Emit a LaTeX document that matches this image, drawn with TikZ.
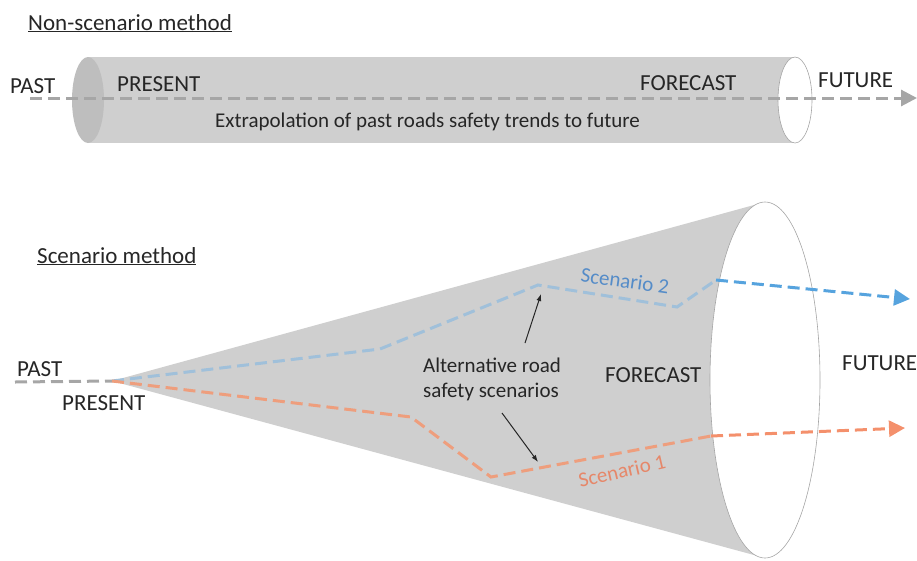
\documentclass[tikz,border=0pt]{standalone}
\usepackage{fontspec}
\setmainfont{Carlito}
\usetikzlibrary{positioning,arrows.meta}
\definecolor{bodygray}{RGB}{207,207,207}
\definecolor{capgray}{RGB}{190,190,190}
\definecolor{rimgray}{RGB}{165,165,165}
\definecolor{pastgray}{RGB}{166,166,166}
\definecolor{lightblue}{RGB}{160,192,218}
\definecolor{darkblue}{RGB}{86,163,222}
\definecolor{lightorange}{RGB}{238,158,125}
\definecolor{darkorange}{RGB}{244,144,108}
\definecolor{textblue}{RGB}{85,140,200}
\definecolor{textorange}{RGB}{230,135,105}

\begin{document}
\begin{tikzpicture}[x=1pt,y=-1pt,font=\fontsize{21}{25}\selectfont,
  trend/.style={dash pattern=on 12pt off 6pt, line width=3pt},
  tip/.style={-{Triangle[length=16pt,width=16pt]}},
  lbl/.style={inner sep=0pt, text=black!85, anchor=base west},
  caps/.style={lbl, font=\fontsize{23}{27}\selectfont},
  pointer/.style={black!85, line width=1pt, -{Latex[length=7pt,width=5pt]}}]
  \useasboundingbox (0,0) rectangle (917,560);

  % non-scenario method
  \node[caps] (title1) at (28,30) {\underline{Non-scenario method}};
  \fill[bodygray] (88,57) rectangle (795,143);
  \fill[capgray] (88,100) ellipse [x radius=16, y radius=43];
  \filldraw[fill=white, draw=rimgray, line width=0.6pt] (795,100) ellipse [x radius=17, y radius=43];
  \coordinate (pastA) at (30,98);
  \coordinate (futA) at (917,98);
  \draw[trend, pastgray, tip] (pastA) -- (futA);
  \node[caps] (pastT) at (10,93) {PAST};
  \node[caps] (presT) at (117,91) {PRESENT};
  \node[caps] (foreT) at (640,90) {FORECAST};
  \node[caps] (futT) at (818,87) {FUTURE};
  \node[lbl] (extra) at (215,127) {Extrapolation of past roads safety trends to future};

  % scenario method
  \node[caps] (title2) at (37,263) {\underline{Scenario method}};
  \coordinate (apex) at (112,381);
  \fill[bodygray] (apex) -- (765,202) -- (765,558) -- cycle;
  \filldraw[fill=white, draw=rimgray, line width=0.6pt] (765,380) ellipse [x radius=55, y radius=178];

  \coordinate (pastB) at (15,382);
  \draw[trend, pastgray] (pastB) -- (apex);

  % scenario 2
  \coordinate (b1) at (380,349);
  \coordinate (b2) at (538,285);
  \coordinate (b3) at (677,307);
  \coordinate (b4) at (716,280);
  \coordinate (b5) at (910,299);
  \draw[trend, lightblue] (apex) -- (b1) -- (b2) -- (b3) -- (b4);
  \draw[trend, darkblue, tip] (b4) -- (b5);

  % scenario 1
  \coordinate (o1) at (411,417);
  \coordinate (o2) at (491,477);
  \coordinate (o3) at (711,436);
  \coordinate (o4) at (905,428);
  \draw[trend, lightorange] (apex) -- (o1) -- (o2) -- (o3);
  \draw[trend, darkorange, tip] (o3) -- (o4);

  \node[caps] (pastL) at (17,376) {PAST};
  \node[caps] (presL) at (62,410) {PRESENT};
  \node[caps] (foreL) at (605,382) {FORECAST};
  \node[caps] (futL) at (842,370) {FUTURE};
  \node[inner sep=0pt, text=black!85, align=left] (alt) at (492,379) {Alternative road\\safety scenarios};
  \node[text=textblue, rotate=-8, inner sep=0pt] (scen2) at (625,281) {Scenario 2};
  \node[text=textorange, rotate=13, inner sep=0pt] (scen1) at (622,471) {Scenario 1};

  \coordinate (upA) at (525,343);
  \coordinate (upB) at (541,294);
  \coordinate (dnA) at (502,413);
  \coordinate (dnB) at (538,462);
  \draw[pointer] (upA) -- (upB);
  \draw[pointer] (dnA) -- (dnB);
\end{tikzpicture}
\end{document}
